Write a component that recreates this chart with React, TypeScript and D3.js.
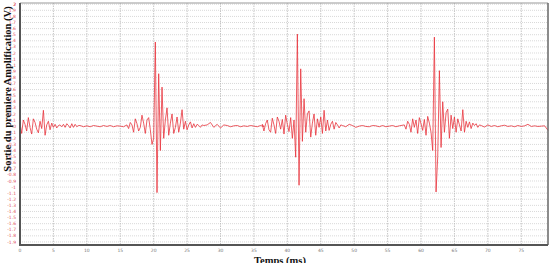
import React from "react";
import * as d3 from "d3";

// signal pieces, each one sampled from its own start time (ms) at a fixed interval (ms)
const lead = [0.05, -0.12, 0.1, 0.03, -0.08, 0.14, -0.02, -0.13, 0.12, 0.06, -0.05, -0.11,
  0.08, -0.04, 0.26, -0.15, 0.02, 0.08, -0.06, 0.05, -0.02, 0.03, -0.03, 0.01,
  0.02, -0.01, 0.03, -0.02, 0.04, 0.01, -0.03, 0.04, -0.02, 0.03, -0.01, 0.01];

const quiet1 = [0.01, -0.01, 0.005, -0.01, 0.01, 0, -0.01, 0.01, -0.005, 0.01, -0.01, 0.005, 0, -0.01];

const burst1 = [0.02, -0.04, 0.06, 0.02, -0.1, 0.12, 0.04, -0.08, -0.02, 0.18, 0.05, -0.12,
  0.1, 0.14, -0.06, -0.3, -0.2, 1.38, -1.09, 0.86, -0.4, 0.64, -0.2, 0.1,
  0.3, -0.15, 0.05, 0.2, -0.12, -0.02, 0.15, -0.1, 0.05, 0.27, -0.05, 0.08,
  -0.06, 0.02, 0.07, -0.03, 0.04, -0.02, 0.03, 0.01, -0.02, 0.02];

const quiet2 = [0.01, 0.02, 0.06, -0.02, 0.03, -0.03, 0.02, 0.01, -0.01, 0.005, 0.01, -0.01,
  0.005, -0.005, 0.01, 0, -0.01, 0.01, -0.01];

const burst2 = [0.03, -0.08, 0.04, 0.1, -0.06, -0.1, 0.13, 0.02, -0.12, 0.15, 0.08, -0.05,
  0.11, -0.13, 0.18, 0.03, -0.09, 0.14, -0.2, 0.1, -0.51, 1.51, -0.97, 0.94,
  -0.25, 0.45, -0.1, 0.2, 0.25, -0.18, 0.05, 0.2, -0.15, 0.12, -0.02, 0.15,
  -0.12, 0.26, -0.08, 0.1, -0.07, 0.03, 0.08, -0.05, 0.06, 0.02, -0.03, 0.02];

const quiet3 = [0.01, -0.01, 0.03, 0.01, -0.02, 0, 0.01, -0.005, -0.01, 0.01, 0.005, -0.01,
  0.01, -0.01, 0, 0.01, -0.01, 0.005];

const burst3 = [0.02, -0.05, 0.08, 0.03, -0.1, 0.12, -0.02, 0.1, -0.12, 0.14, 0.04, -0.07,
  0.11, -0.15, 0.16, 0.05, -0.1, -0.4, 1.46, -1.08, -0.5, 0.91, -0.35, 0.4,
  -0.1, 0.22, 0.28, -0.2, 0.18, -0.04, 0.15, -0.1, 0.12, 0.02, -0.08, 0.27,
  -0.1, 0.08, -0.02, 0.07, -0.04, 0.05, 0.01, 0.04, -0.02, 0.02];

const tail = [0.01, -0.015, 0.02, -0.005, 0.01, -0.01, 0.005, 0.015, -0.005, 0.005, -0.01, 0.01,
  -0.005, 0.005, 0.03, -0.005, 0.005, -0.005, 0, 0.005, -0.07];

const segments = [
  { start: 0, step: 0.25, values: lead },
  { start: 9, step: 0.5, values: quiet1 },
  { start: 16, step: 0.25, values: burst1 },
  { start: 27.5, step: 0.5, values: quiet2 },
  { start: 36.25, step: 0.25, values: burst2 },
  { start: 48.25, step: 0.5, values: quiet3 },
  { start: 57.5, step: 0.25, values: burst3 },
  { start: 69, step: 0.5, values: tail },
];

const xTicks = [0, 5, 10, 15, 20, 25, 30, 35, 40, 45, 50, 55, 60, 65, 70, 75];
const yTicks = d3.range(-19, 21).map((i) => i / 10);

const W = 552;
const H = 263;

export default function App() {
  const x = d3.scaleLinear().domain([0, 79]).range([20, 548]);
  const y = d3.scaleLinear().domain([-1.95, 2.02]).range([245, 3]);

  const points: [number, number][] = [];
  segments.forEach((s) => {
    s.values.forEach((v, i) => points.push([s.start + i * s.step, v]));
  });

  const line = d3
    .line<[number, number]>()
    .x((d) => x(d[0]))
    .y((d) => y(d[1]));

  const fmt = (d: number) => String(Math.round(d * 10) / 10);
  const [x0, x1] = x.range();
  const [y0, y1] = y.range();

  return (
    <svg width={W} height={H} style={{ position: "absolute", left: 0, top: 0, background: "#fff" }}>
      <rect x={0} y={0} width={W} height={H} fill="#fff" />
      {/* horizontal grid */}
      {yTicks.map((t) => (
        <line key={"h" + t} x1={x0} x2={x1} y1={y(t)} y2={y(t)} stroke="#c8c8c8" strokeWidth={0.7} strokeDasharray="1,1" />
      ))}
      {/* vertical grid */}
      {xTicks.map((t) => (
        <line key={"v" + t} x1={x(t)} x2={x(t)} y1={y1} y2={y0} stroke="#b8b8b8" strokeWidth={0.8} strokeDasharray="1.5,1" />
      ))}

      <path d={line(points) || ""} fill="none" stroke="#e8333c" strokeWidth={0.8} strokeLinejoin="round" />

      {/* frame */}
      <line x1={x0} x2={x1} y1={y1} y2={y1} stroke="#999" strokeWidth={1} />
      <line x1={x1} x2={x1} y1={y1} y2={y0} stroke="#666" strokeWidth={1.5} />
      <line x1={x0} x2={x0} y1={y1} y2={y0 + 1} stroke="#555" strokeWidth={2} />
      <line x1={x0 - 1} x2={x1} y1={y0} y2={y0} stroke="#555" strokeWidth={2} />

      {/* y tick labels */}
      {yTicks.map((t) => (
        <text key={"yl" + t} x={16} y={y(t)} dy="0.35em" textAnchor="end" fontSize={4.5}
          fontFamily="'DejaVu Sans', sans-serif" fill="#e0505c">{fmt(t)}</text>
      ))}
      <text x={16} y={y(2)} dy="0.35em" textAnchor="end" fontSize={4.5}
        fontFamily="'DejaVu Sans', sans-serif" fill="#e0505c">2</text>

      {/* x tick labels */}
      {xTicks.map((t) => (
        <text key={"xl" + t} x={x(t)} y={252} textAnchor="middle" fontSize={4.5}
          fontFamily="'DejaVu Sans', sans-serif" fill="#777">{t}</text>
      ))}

      <text transform={`translate(11,${(y0 + y1) / 2 - 35}) rotate(-90)`} textAnchor="middle"
        fontFamily="'Liberation Serif', serif" fontWeight="bold" fontSize={10.5} fill="#111">
        Sortie du premiere Amplification (V)
      </text>
      <text x={280} y={264} textAnchor="middle" fontFamily="'Liberation Serif', serif"
        fontWeight="bold" fontSize={10.5} fill="#111">Temps (ms)</text>
    </svg>
  );
}
